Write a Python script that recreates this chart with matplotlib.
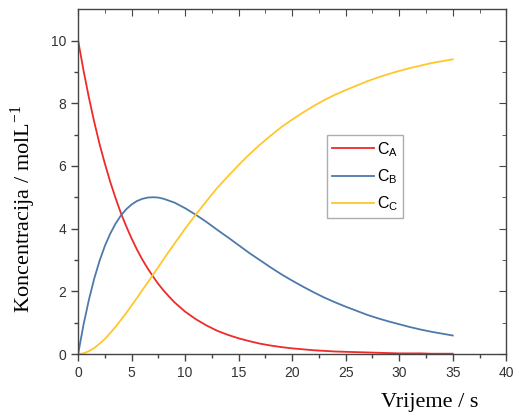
import matplotlib
matplotlib.use('Agg')
import matplotlib.pyplot as plt

# vrijeme (s) i koncentracije (mol/L), ocitano sa slike
t = [0, 0.5, 1, 1.5, 2, 2.5, 3, 3.5, 4, 4.5, 5, 5.5, 6, 6.5, 7, 7.5, 8, 8.5, 9, 9.5,
     10, 11, 12, 13, 14, 15, 16, 17, 18, 19, 20, 21, 22, 23, 24, 25, 26, 27, 28, 29,
     30, 31, 32, 33, 34, 35]
c_a = [10.00, 9.05, 8.19, 7.41, 6.70, 6.07, 5.49, 4.97, 4.49, 4.07, 3.68, 3.33,
       3.01, 2.73, 2.47, 2.23, 2.02, 1.83, 1.65, 1.50,
       1.35, 1.11, 0.91, 0.74, 0.61, 0.50, 0.41, 0.33, 0.27, 0.22,
       0.18, 0.15, 0.12, 0.10, 0.08, 0.07, 0.06, 0.05, 0.04, 0.03,
       0.02, 0.02, 0.02, 0.01, 0.01, 0.01]
c_b = [0.00, 0.93, 1.72, 2.40, 2.97, 3.45, 3.84, 4.16, 4.42, 4.62, 4.77, 4.88,
       4.95, 4.99, 5.00, 4.99, 4.95, 4.89, 4.83, 4.74,
       4.65, 4.44, 4.21, 3.96, 3.72, 3.47, 3.22, 2.99, 2.76, 2.54,
       2.34, 2.15, 1.97, 1.80, 1.65, 1.51, 1.38, 1.25, 1.14, 1.04,
       0.95, 0.86, 0.78, 0.71, 0.65, 0.59]
c_c = [0.00, 0.02, 0.09, 0.19, 0.33, 0.48, 0.67, 0.87, 1.09, 1.31, 1.55, 1.79,
       2.04, 2.28, 2.53, 2.78, 3.03, 3.28, 3.52, 3.76,
       4.00, 4.45, 4.88, 5.30, 5.67, 6.03, 6.37, 6.68, 6.97, 7.24,
       7.48, 7.70, 7.91, 8.10, 8.27, 8.42, 8.56, 8.70, 8.82, 8.93,
       9.03, 9.12, 9.20, 9.28, 9.34, 9.40]

fig = plt.figure(figsize=(5.14, 4.16), dpi=100)
ax = fig.add_axes([0.152, 0.149, 0.833, 0.829])

ax.plot(t, c_a, color='#ee2a2a', lw=1.3, label=r'C$_\mathregular{A}$')
ax.plot(t, c_b, color='#4d7aab', lw=1.3, label=r'C$_\mathregular{B}$')
ax.plot(t, c_c, color='#ffc72c', lw=1.3, label=r'C$_\mathregular{C}$')

ax.set_xlim(0, 40)
ax.set_ylim(0, 11)
ax.set_xticks(range(0, 41, 5))
ax.set_xticks([2.5 + 5 * i for i in range(8)], minor=True)
ax.set_yticks(range(0, 11, 2))
ax.set_yticks(range(1, 11, 2), minor=True)

for s in ax.spines.values():
    s.set_color('#444444')
    s.set_linewidth(1.0)

ax.tick_params(which='both', direction='out', color='#444444', width=1.0,
               labelsize=10, labelcolor='#333333', labelfontfamily='Liberation Sans')
ax.tick_params(which='major', length=5)
ax.tick_params(which='minor', length=3)

# zrcalne oznake gore i desno, prema unutra
top = ax.secondary_xaxis('top')
top.set_xticks(range(0, 41, 5))
top.set_xticks([2.5 + 5 * i for i in range(8)], minor=True)
top.tick_params(which='both', direction='in', color='#444444', labeltop=False)
top.tick_params(which='major', length=5)
top.tick_params(which='minor', length=3)
top.spines['top'].set_visible(False)
right = ax.secondary_yaxis('right')
right.set_yticks(range(0, 11, 2))
right.set_yticks(range(1, 11, 2), minor=True)
right.tick_params(which='both', direction='in', color='#444444', labelright=False)
right.tick_params(which='major', length=5)
right.tick_params(which='minor', length=3)
right.spines['right'].set_visible(False)

ax.set_xlabel('Vrijeme / s', family='Liberation Serif', fontsize=16)
ax.xaxis.set_label_coords(0.822, -0.113)
ax.set_ylabel('Koncentracija / molL$^{\\mathregular{-1}}$', family='Liberation Serif', fontsize=16)
ax.yaxis.set_label_coords(-0.094, 0.42)

leg = ax.legend(loc='upper left', bbox_to_anchor=(0.582, 0.635), borderaxespad=0,
                fancybox=False, edgecolor='#999999', handlelength=2.6,
                prop={'family': 'Liberation Sans', 'size': 11.5},
                labelspacing=0.55, borderpad=0.3, handletextpad=0.2)
leg.get_frame().set_linewidth(1.0)

fig.savefig('out.png', dpi=100)
